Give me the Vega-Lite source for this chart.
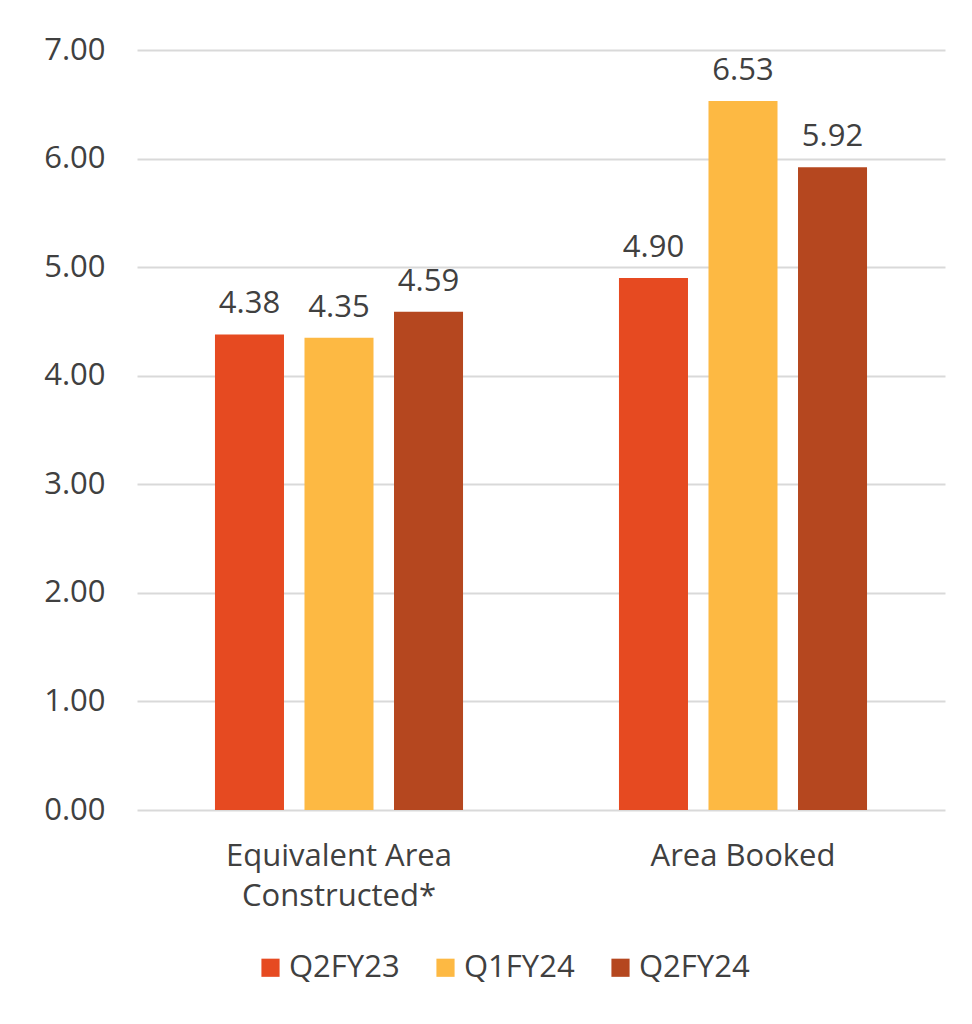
{
  "$schema": "https://vega.github.io/schema/vega-lite/v6.json",
  "width": 808,
  "height": 760,
  "autosize": {"type": "none"},
  "padding": {"left": 137, "top": 50, "right": 27, "bottom": 214},
  "background": "white",
  "config": {
    "font": "Open Sans",
    "view": {"stroke": null},
    "text": {"font": "Open Sans"}
  },
  "data": {
    "values": [
      {"category": "Equivalent Area Constructed*", "period": "Q2FY23", "value": 4.38},
      {"category": "Equivalent Area Constructed*", "period": "Q1FY24", "value": 4.35},
      {"category": "Equivalent Area Constructed*", "period": "Q2FY24", "value": 4.59},
      {"category": "Area Booked", "period": "Q2FY23", "value": 4.90},
      {"category": "Area Booked", "period": "Q1FY24", "value": 6.53},
      {"category": "Area Booked", "period": "Q2FY24", "value": 5.92}
    ]
  },
  "encoding": {
    "x": {
      "field": "category",
      "type": "nominal",
      "sort": ["Equivalent Area Constructed*", "Area Booked"],
      "scale": {"paddingInner": 0.386, "paddingOuter": 0.193},
      "axis": {
        "title": null,
        "labelAngle": 0,
        "domain": false,
        "ticks": false,
        "labelFontSize": 31,
        "labelColor": "#404040",
        "labelPadding": 31,
        "labelLineHeight": 40,
        "labelLimit": 0,
        "labelExpr": "datum.label == 'Equivalent Area Constructed*' ? ['Equivalent Area', 'Constructed*'] : datum.label"
      }
    },
    "xOffset": {
      "field": "period",
      "type": "nominal",
      "sort": ["Q2FY23", "Q1FY24", "Q2FY24"],
      "scale": {"paddingInner": 0.229, "paddingOuter": 0}
    },
    "y": {
      "field": "value",
      "type": "quantitative",
      "scale": {"domain": [0, 7], "nice": false},
      "axis": {
        "title": null,
        "values": [0, 1, 2, 3, 4, 5, 6, 7],
        "format": ".2f",
        "domain": false,
        "ticks": false,
        "labelFontSize": 31,
        "labelColor": "#404040",
        "labelPadding": 32,
        "gridColor": "#d9d9d9",
        "gridWidth": 2
      }
    }
  },
  "layer": [
    {
      "mark": {"type": "bar"},
      "encoding": {
        "color": {
          "field": "period",
          "type": "nominal",
          "sort": ["Q2FY23", "Q1FY24", "Q2FY24"],
          "scale": {"domain": ["Q2FY23", "Q1FY24", "Q2FY24"], "range": ["#E64A21", "#FDB943", "#B5471F"]},
          "legend": {
            "title": null,
            "orient": "none",
            "legendX": 118,
            "legendY": 902,
            "direction": "horizontal",
            "symbolType": "square",
            "symbolSize": 330,
            "symbolStrokeWidth": 0,
            "labelFontSize": 31,
            "labelColor": "#404040",
            "labelOffset": 3,
            "columnPadding": 30
          }
        }
      }
    },
    {
      "mark": {"type": "text", "baseline": "bottom", "dy": -14, "fontSize": 31, "color": "#404040"},
      "encoding": {
        "text": {"field": "value", "type": "quantitative", "format": ".2f"}
      }
    }
  ]
}
